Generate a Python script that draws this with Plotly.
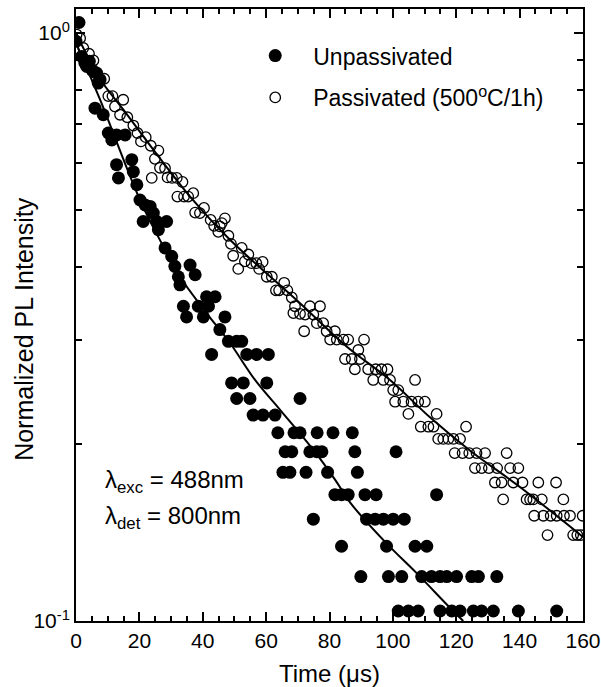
import plotly.graph_objects as go

# ---------------- data ----------------
t_unpass = [0.95, 0.0, 1.8, 2.8, 3.4, 4.2, 5.0, 5.5, 6.5, 7.0, 7.6, 6.0, 8.6, 10.2, 11.3, 12.8, 15.5,
            12.8, 17.6, 13.4, 18.1, 19.2, 20.2, 21.8, 23.4, 24.4, 21.2, 25.5, 28.6, 26.0, 28.1, 30.2,
            31.2, 36.0, 32.3, 37.6, 32.8, 41.2, 43.9, 33.9, 38.6, 41.8, 34.9, 40.2, 47.0, 45.4, 48.1,
            50.7, 52.3, 42.8, 53.9, 57.0, 60.7, 49.1, 52.8, 60.2, 50.7, 54.9, 70.7, 55.9, 59.0, 62.8,
            63.7, 68.8, 70.7, 76.1, 81.1, 87.2,
            66.0, 68.1, 73.8, 76.0, 77.6, 88.0, 101.0,
            65.3, 67.5, 72.6, 79.4, 88.8,
            81.7, 83.8, 85.9, 91.2, 94.7, 113.8,
            74.9, 91.7, 94.4, 97.0, 100.1, 103.6,
            83.8, 98.0, 107.0, 110.7,
            89.9, 98.6, 102.8, 109.1, 112.2, 114.9, 117.0, 120.1, 124.9, 127.0, 132.8,
            101.7, 104.9, 108.0, 114.9, 118.6, 121.2, 125.4, 128.0, 131.7, 139.6, 151.7]
i_unpass = [1.042, 0.968, 0.912, 0.889, 0.877, 0.895, 0.866, 0.860, 0.855, 0.822, 0.833, 0.745, 0.726,
            0.676, 0.658, 0.671, 0.671, 0.597, 0.609, 0.567, 0.581, 0.552, 0.520, 0.510, 0.507, 0.494,
            0.478, 0.478, 0.478, 0.463, 0.431, 0.417, 0.401, 0.403, 0.385, 0.388, 0.373, 0.356, 0.356,
            0.343, 0.343, 0.343, 0.329, 0.329, 0.329, 0.313, 0.299, 0.299, 0.299, 0.284, 0.284, 0.284,
            0.284, 0.254, 0.254, 0.254, 0.239, 0.239, 0.239, 0.224, 0.224, 0.224,
            0.209, 0.209, 0.209, 0.209, 0.209, 0.209,
            0.194, 0.194, 0.194, 0.194, 0.194, 0.194, 0.194,
            0.179, 0.179, 0.179, 0.179, 0.179,
            0.164, 0.164, 0.164, 0.164, 0.164, 0.164,
            0.149, 0.149, 0.149, 0.149, 0.149, 0.149,
            0.134, 0.134, 0.134, 0.134,
            0.119, 0.119, 0.119, 0.119, 0.119, 0.119, 0.119, 0.119, 0.119, 0.119, 0.119,
            0.104, 0.104, 0.104, 0.104, 0.104, 0.104, 0.104, 0.104, 0.104, 0.104, 0.104]

t_pass = [0.2, 1.3, 2.3, 4.1, 5.5, 8.9, 10.2, 11.5, 12.3, 13.9, 14.9, 16.2, 18.1, 19.4, 20.5, 22.0,
          23.6, 23.9, 24.9, 26.0, 26.5, 28.1, 28.9, 30.3, 31.8, 32.0, 33.6, 34.1, 35.4, 37.0, 37.6,
          39.1, 40.4, 42.5, 43.6, 44.9, 45.4, 46.0, 47.0, 48.1, 48.9, 49.6, 51.2, 52.3, 53.3, 54.4,
          55.4, 56.9, 57.8, 58.9, 60.2, 61.8, 63.1, 64.1, 65.7, 66.7, 68.1, 68.6, 69.1, 70.7, 72.0,
          72.3, 73.8, 74.9, 76.0, 77.0, 78.0, 79.1, 80.2, 81.7, 82.3, 84.4, 84.9, 85.9, 87.0, 88.0,
          89.1, 89.6, 90.9, 92.2, 93.8, 94.6, 96.4, 97.0, 98.3, 99.1, 100.1, 100.7, 101.7, 103.3,
          104.9, 105.9, 107.0, 108.0, 108.8, 110.1, 111.2, 112.8, 113.8, 114.3, 115.9, 117.5, 119.1,
          119.5, 121.2, 122.0, 123.1, 124.1, 125.9, 126.4, 128.0, 129.1, 130.3, 132.2, 132.9, 134.3,
          134.8, 135.9, 137.0, 138.0, 139.6, 140.9, 142.2, 143.3, 144.3, 144.6, 145.9, 147.0, 147.5,
          148.8, 149.8, 151.7, 151.5, 153.8, 154.0, 155.9, 156.9, 158.2, 159.3, 159.9]
i_pass = [0.994, 0.980, 0.943, 0.922, 0.898, 0.836, 0.781, 0.781, 0.750, 0.726, 0.770, 0.719, 0.696,
          0.676, 0.654, 0.665, 0.643, 0.567, 0.611, 0.631, 0.590, 0.589, 0.568, 0.567, 0.567, 0.527,
          0.558, 0.527, 0.527, 0.534, 0.495, 0.494, 0.504, 0.481, 0.470, 0.459, 0.469, 0.475, 0.484,
          0.452, 0.438, 0.418, 0.397, 0.431, 0.409, 0.420, 0.406, 0.406, 0.397, 0.408, 0.385, 0.385,
          0.365, 0.365, 0.376, 0.365, 0.355, 0.334, 0.343, 0.333, 0.311, 0.332, 0.343, 0.332, 0.321,
          0.343, 0.321, 0.311, 0.301, 0.311, 0.301, 0.301, 0.279, 0.301, 0.279, 0.268, 0.289, 0.279,
          0.301, 0.268, 0.257, 0.268, 0.268, 0.257, 0.268, 0.257, 0.247, 0.236, 0.247, 0.236, 0.225,
          0.236, 0.257, 0.236, 0.214, 0.236, 0.214, 0.214, 0.225, 0.204, 0.204, 0.204, 0.204, 0.193,
          0.204, 0.193, 0.214, 0.193, 0.182, 0.193, 0.182, 0.193, 0.182, 0.172, 0.182, 0.172, 0.161,
          0.193, 0.182, 0.172, 0.182, 0.172, 0.161, 0.161, 0.161, 0.151, 0.172, 0.161, 0.151, 0.140,
          0.151, 0.151, 0.172, 0.161, 0.151, 0.151, 0.140, 0.140, 0.140, 0.151]

# fitted decay curves
fit_t_unpass = [0.0, 7.6, 20.2, 27.6, 32.8, 41.2, 48.6, 56.5, 64.4, 74.9, 81.8, 86.6, 98.0, 107.5, 118.1, 122.2]
fit_i_unpass = [0.962, 0.770, 0.520, 0.433, 0.385, 0.334, 0.297, 0.257, 0.2286, 0.1954, 0.1738, 0.1588,
                0.1355, 0.1206, 0.1052, 0.100]
fit_t_pass = [0.0, 7.6, 15.0, 26.0, 36.0, 48.6, 70.7, 85.4, 99.1, 111.7, 124.3, 140.1, 160.0]
fit_i_pass = [1.0, 0.835, 0.740, 0.617, 0.527, 0.445, 0.347, 0.293, 0.257, 0.222, 0.195, 0.169, 0.139]

FONT = "Arial, Liberation Sans, sans-serif"

fig = go.Figure()
fig.add_trace(go.Scatter(x=fit_t_unpass, y=fit_i_unpass, mode="lines", line=dict(color="black", width=2, shape="spline"),
                         showlegend=False, hoverinfo="skip"))
fig.add_trace(go.Scatter(x=fit_t_pass, y=fit_i_pass, mode="lines", line=dict(color="black", width=2, shape="spline"),
                         showlegend=False, hoverinfo="skip"))
fig.add_trace(go.Scatter(x=t_unpass, y=i_unpass, mode="markers", name="Unpassivated", legendgroup="a",
                         marker=dict(symbol="circle", size=13, color="black", line=dict(width=0))))
fig.add_trace(go.Scatter(x=t_pass, y=i_pass, mode="markers", name="Passivated (500<sup>o</sup>C/1h)", legendgroup="b",
                         marker=dict(symbol="circle-open", size=10.5, color="black", line=dict(width=1.3, color="black"))))

axis_common = dict(showgrid=False, zeroline=False, showline=True, linecolor="black", linewidth=2,
                   mirror="allticks", ticks="inside", tickcolor="black", tickwidth=1.5, ticklen=9,
                   automargin=False, tickfont=dict(family=FONT, size=21, color="black"))

fig.update_xaxes(range=[0, 160], tickmode="array", tickvals=[0, 20, 40, 60, 80, 100, 120, 140, 160],
                 minor=dict(dtick=5, tick0=0, ticks="inside", ticklen=5, tickwidth=1.5, tickcolor="black"),
                 **axis_common)
fig.update_yaxes(type="log", range=[-1, 0.0408], tickmode="array", tickvals=[0.1, 1],
                 ticktext=["10<sup>-1</sup>", "10<sup>0</sup>"],
                 minor=dict(tickmode="array", tickvals=[0.2, 0.3, 0.4, 0.5, 0.6, 0.7, 0.8, 0.9],
                            ticks="inside", ticklen=6, tickwidth=1.5, tickcolor="black"),
                 **axis_common)

fig.add_annotation(text="Time (\u03bcs)", xref="paper", yref="paper", x=0.5, y=-0.085, xanchor="center",
                   yanchor="middle", showarrow=False, font=dict(family=FONT, size=24, color="black"))
fig.add_annotation(text="Normalized PL Intensity", xref="paper", yref="paper", x=-0.103, y=0.477,
                   xanchor="center", yanchor="middle", textangle=-90, showarrow=False,
                   font=dict(family=FONT, size=25, color="black"))
fig.add_annotation(text="\u03bb<sub>exc</sub> = 488nm", xref="paper", yref="paper", x=0.053, y=0.228,
                   xanchor="left", yanchor="middle", showarrow=False, font=dict(family=FONT, size=24, color="black"))
fig.add_annotation(text="\u03bb<sub>det</sub> = 800nm", xref="paper", yref="paper", x=0.053, y=0.169,
                   xanchor="left", yanchor="middle", showarrow=False, font=dict(family=FONT, size=24, color="black"))

fig.update_layout(
    width=601, height=687,
    margin=dict(l=76, r=18, t=9, b=66),
    paper_bgcolor="white", plot_bgcolor="white",
    font=dict(family=FONT, size=21, color="black"),
    showlegend=True,
    legend=dict(x=0.318, y=0.959, xanchor="left", yanchor="top", bgcolor="rgba(0,0,0,0)",
                font=dict(family=FONT, size=23, color="black"), itemwidth=66,
                traceorder="grouped", tracegroupgap=9),
)

fig.write_html("out.html")
